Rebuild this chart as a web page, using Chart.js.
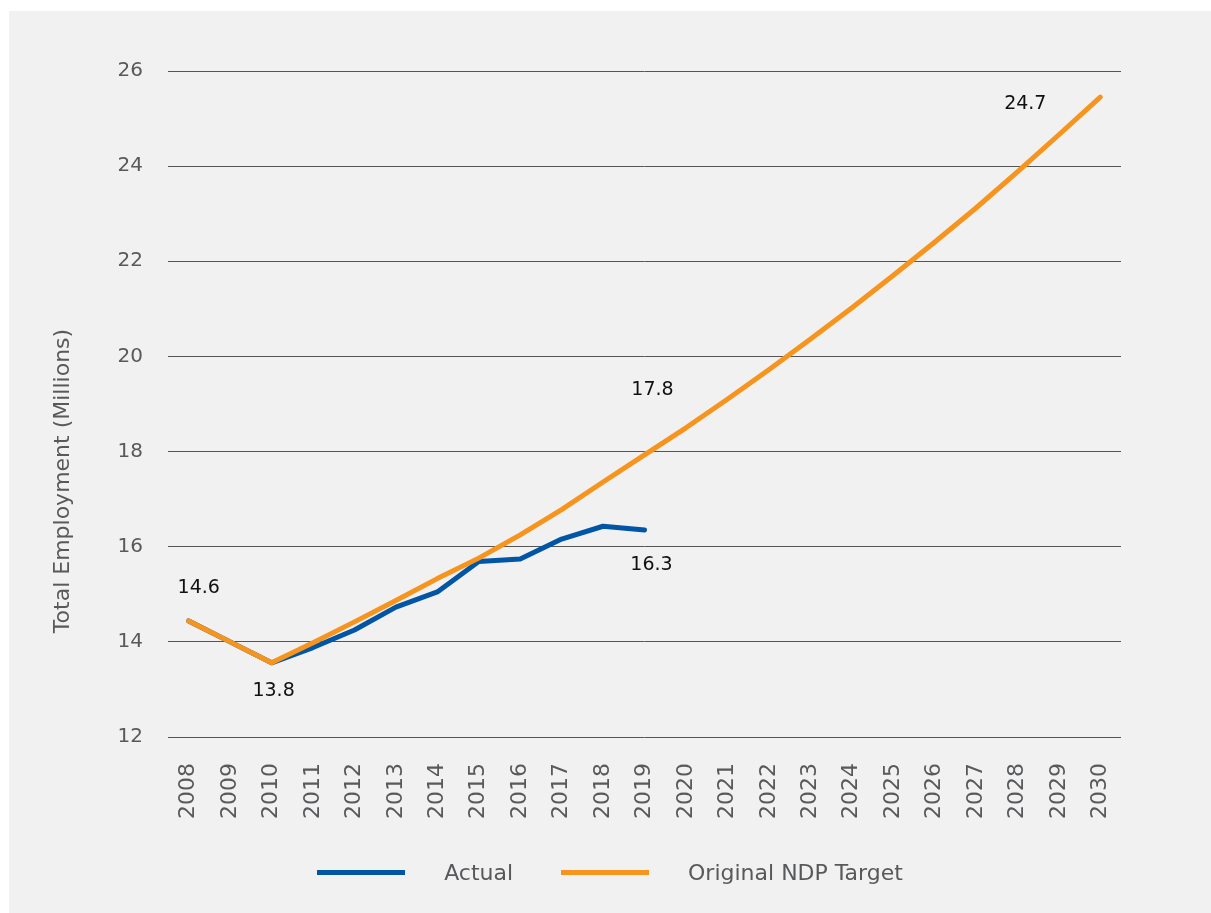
<!DOCTYPE html>
<html>
<head>
<meta charset="utf-8">
<script src="https://cdn.jsdelivr.net/npm/chart.js@4.4.1/dist/chart.umd.min.js"></script>
<style>
  html, body { margin: 0; padding: 0; background: #ffffff; }
  #panel { position: absolute; left: 9px; top: 11px; width: 1202px; height: 902px; background: #f1f1f1; }
  #wrap { position: absolute; left: 0; top: 0; width: 1202px; height: 902px; }
  #legend { position: absolute; left: 0; top: 849px; width: 1202px; height: 24px; display: flex; justify-content: center; align-items: center;
            font-family: "DejaVu Sans", sans-serif; font-size: 22px; color: #58595b; }
  .item { display: flex; align-items: center; margin: 0 24px; }
  .swatch { width: 88px; height: 5px; margin-right: 39px; }
</style>
</head>
<body>
<div id="panel">
  <div id="wrap"><canvas id="c" width="1202" height="902"></canvas></div>
  <div id="legend"></div>
</div>
<script>
const years = ['2008','2009','2010','2011','2012','2013','2014','2015','2016','2017','2018','2019','2020','2021','2022','2023','2024','2025','2026','2027','2028','2029','2030'];
const actual = [14.44, 14.0, 13.56, 13.88, 14.25, 14.73, 15.05, 15.69, 15.74, 16.16, 16.43, 16.35];
const target = [14.44, 14.0, 13.56, 13.98, 14.42, 14.87, 15.33, 15.76, 16.25, 16.78, 17.36, 17.93, 18.5, 19.1, 19.72, 20.36, 21.02, 21.7, 22.4, 23.12, 23.88, 24.66, 25.45];
const seriesNames = ['Actual', 'Original NDP Target'];
const yTicks = [12, 14, 16, 18, 20, 22, 24, 26];
const yTitle = 'Total Employment (Millions)';
// annotation texts: [seriesIndex, yearIndex, text]
const labelTexts = [[1, 0, '14.6'], [1, 2, '13.8'], [1, 11, '17.8'], [0, 11, '16.3'], [1, 22, '24.7']];
// layout offsets for annotations (pixels)
const labelOffsets = [[10, -33], [2, 28], [8, -65], [7, 35], [-75, 7]];

const BLUE = '#0055a5', ORANGE = '#f7941d';
const colors = [BLUE, ORANGE];
const FONT = '"DejaVu Sans", sans-serif';

const annot = {
  id: 'annot',
  afterDatasetsDraw(chart) {
    const ctx = chart.ctx;
    ctx.save();
    ctx.font = '19px ' + FONT;
    ctx.fillStyle = '#111111';
    ctx.textAlign = 'center';
    ctx.textBaseline = 'middle';
    labelTexts.forEach((l, i) => {
      const ds = l[0] === 0 ? 1 : 0; // dataset index mapping
      const pt = chart.getDatasetMeta(ds).data[l[1]];
      ctx.fillText(l[2], pt.x + labelOffsets[i][0], pt.y + labelOffsets[i][1]);
    });
    // y axis title
    ctx.font = '22px ' + FONT;
    ctx.fillStyle = '#58595b';
    ctx.translate(54, 470);
    ctx.rotate(-Math.PI / 2);
    ctx.fillText(yTitle, 0, 0);
    ctx.restore();
  }
};

const chart = new Chart(document.getElementById('c'), {
  type: 'line',
  data: {
    labels: years,
    datasets: [
      { label: seriesNames[1], data: target, borderColor: ORANGE, backgroundColor: ORANGE, borderWidth: 5,
        pointRadius: 0, tension: 0, borderCapStyle: 'round', borderJoinStyle: 'round', order: 0 },
      { label: seriesNames[0], data: actual, borderColor: BLUE, backgroundColor: BLUE, borderWidth: 5,
        pointRadius: 0, tension: 0, borderCapStyle: 'round', borderJoinStyle: 'round', order: 1 }
    ]
  },
  options: {
    responsive: false,
    animation: false,
    layout: { padding: { top: 60, right: 90, left: 0, bottom: 0 } },
    plugins: { legend: { display: false }, tooltip: { enabled: false } },
    scales: {
      x: {
        offset: true,
        grid: { display: false, drawTicks: false },
        border: { display: false },
        ticks: { minRotation: 90, maxRotation: 90, padding: 26, color: '#58595b', font: { family: 'DejaVu Sans', size: 22 } },
        afterFit(s) { s.height = 176; }
      },
      y: {
        min: 12, max: 26,
        afterBuildTicks(s) { s.ticks = yTicks.map(v => ({ value: v })); },
        grid: { color: '#555555', lineWidth: 1, drawTicks: false },
        border: { display: false },
        ticks: { padding: 25, color: '#58595b', font: { family: 'DejaVu Sans', size: 20 } },
        afterFit(s) { s.width = 159; }
      }
    }
  },
  plugins: [annot]
});

const lg = document.getElementById('legend');
seriesNames.forEach((n, i) => {
  const it = document.createElement('div'); it.className = 'item';
  const sw = document.createElement('div'); sw.className = 'swatch'; sw.style.background = colors[i];
  const tx = document.createElement('span'); tx.textContent = n;
  it.appendChild(sw); it.appendChild(tx); lg.appendChild(it);
});
</script>
</body>
</html>
